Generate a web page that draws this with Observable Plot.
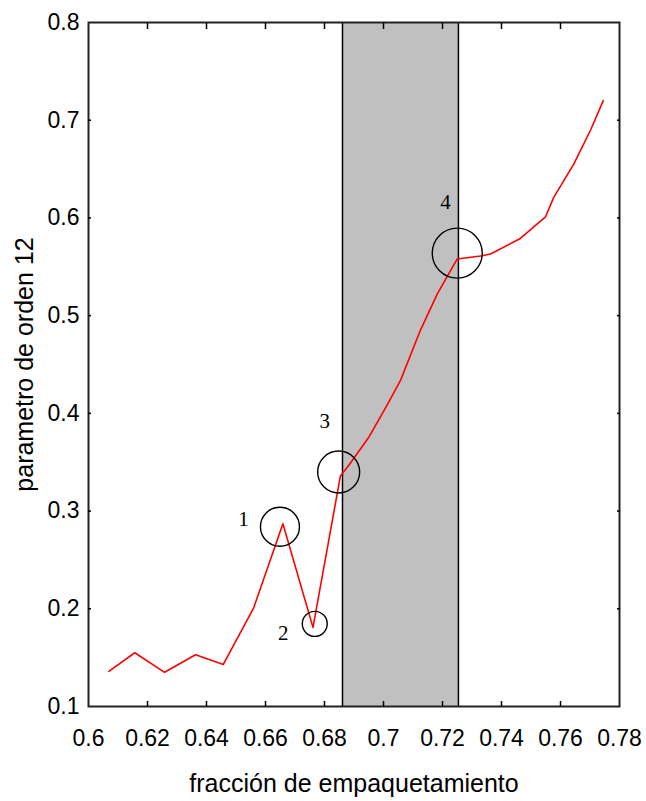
<!DOCTYPE html>
<html>
<head>
<meta charset="utf-8">
<script src="https://cdn.jsdelivr.net/npm/d3@7"></script>
<script src="https://cdn.jsdelivr.net/npm/@observablehq/plot@0.6"></script>
<style>
  html, body { margin: 0; padding: 0; background: #fff; }
  #chart svg { display: block; }
</style>
</head>
<body>
<div id="chart"></div>
<script>
// ---- data ----
const packingFraction = [0.6069, 0.6157, 0.6258, 0.6363, 0.6457, 0.656, 0.6659, 0.6761, 0.6854, 0.6885, 0.6949, 0.7015, 0.7058, 0.7125, 0.7182, 0.725, 0.7329, 0.7363, 0.7464, 0.7549, 0.7577, 0.7645, 0.7702, 0.7745];
const order12 = [0.136, 0.155, 0.135, 0.153, 0.143, 0.201, 0.287, 0.181, 0.336, 0.348, 0.375, 0.41, 0.434, 0.485, 0.522, 0.558, 0.561, 0.563, 0.579, 0.601, 0.621, 0.655, 0.69, 0.72];

const bandEdges = [0.6861, 0.7254];

const markerX = [0.6649, 0.6767, 0.6848, 0.725];
const markerY = [0.284, 0.1846, 0.34, 0.564];
const labelText = ["1", "2", "3", "4"];
const labelX = [0.6525, 0.666, 0.6801, 0.721];
const labelY = [0.292, 0.175, 0.392, 0.616];

const xTicks = [0.6, 0.62, 0.64, 0.66, 0.68, 0.7, 0.72, 0.74, 0.76, 0.78];
const yTicks = [0.1, 0.2, 0.3, 0.4, 0.5, 0.6, 0.7, 0.8];
const xInnerTicks = [0.62, 0.64, 0.66, 0.68, 0.7, 0.72, 0.74, 0.76];
const yInnerTicks = [0.2, 0.3, 0.4, 0.5, 0.6, 0.7];

const xTitle = "fracción de empaquetamiento";
const yTitle = "parametro de orden 12";

// ---- styling constants ----
const circleRadii = [19.5, 12.5, 21, 25];

const curve = packingFraction.map((x, i) => ({x, y: order12[i]}));
const markers = markerX.map((x, i) => ({x, y: markerY[i], r: circleRadii[i]}));
const labels = labelText.map((t, i) => ({t, x: labelX[i], y: labelY[i]}));

const chart = Plot.plot({
  width: 646,
  height: 801,
  marginLeft: 88,
  marginRight: 27,
  marginTop: 22,
  marginBottom: 95,
  style: {fontFamily: "'Liberation Sans', Arial, sans-serif", fontSize: "23px", color: "#000", background: "#fff"},
  x: {domain: [0.6, 0.78], label: null},
  y: {domain: [0.1, 0.8], label: null},
  r: {type: "identity"},
  marks: [
    Plot.rect([bandEdges], {x1: d => d[0], x2: d => d[1], fill: "#c0c0c0"}),
    Plot.ruleX(bandEdges, {stroke: "#000", strokeWidth: 1.5}),
    Plot.line(curve, {x: "x", y: "y", stroke: "#ff0000", strokeWidth: 1.6}),
    Plot.dot(markers, {x: "x", y: "y", r: "r", stroke: "#000", strokeWidth: 1.4, fill: "none"}),
    Plot.text(labels, {x: "x", y: "y", text: "t", fontFamily: "'Liberation Serif', 'Times New Roman', serif", fontSize: 21, fill: "#000"}),
    Plot.frame({stroke: "#222", strokeWidth: 2}),
    Plot.axisX(xTicks, {anchor: "bottom", tickSize: 0, tickPadding: 23, tickFormat: d => String(d), fontSize: 23, label: null}),
    Plot.axisY(yTicks, {anchor: "left", tickSize: 0, tickPadding: 9, tickFormat: d => String(d), fontSize: 23, label: null}),
    Plot.axisX(xInnerTicks, {anchor: "bottom", tickSize: -5, strokeWidth: 1.5, text: null, label: null}),
    Plot.axisX(xInnerTicks, {anchor: "top", tickSize: -6, strokeWidth: 1.5, text: null, label: null}),
    Plot.axisY(yInnerTicks, {anchor: "left", tickSize: -3, strokeWidth: 1.5, text: null, label: null}),
    Plot.axisY(yInnerTicks, {anchor: "right", tickSize: -3, strokeWidth: 1.5, text: null, label: null}),
    Plot.text([xTitle], {frameAnchor: "bottom", dy: 77, lineAnchor: "middle", textAnchor: "middle", fontSize: 25, fill: "#000"}),
    Plot.text([yTitle], {frameAnchor: "left", dx: -64, rotate: -90, lineAnchor: "middle", textAnchor: "middle", fontSize: 25, fill: "#000"})
  ]
});
document.getElementById("chart").appendChild(chart);
</script>
</body>
</html>
